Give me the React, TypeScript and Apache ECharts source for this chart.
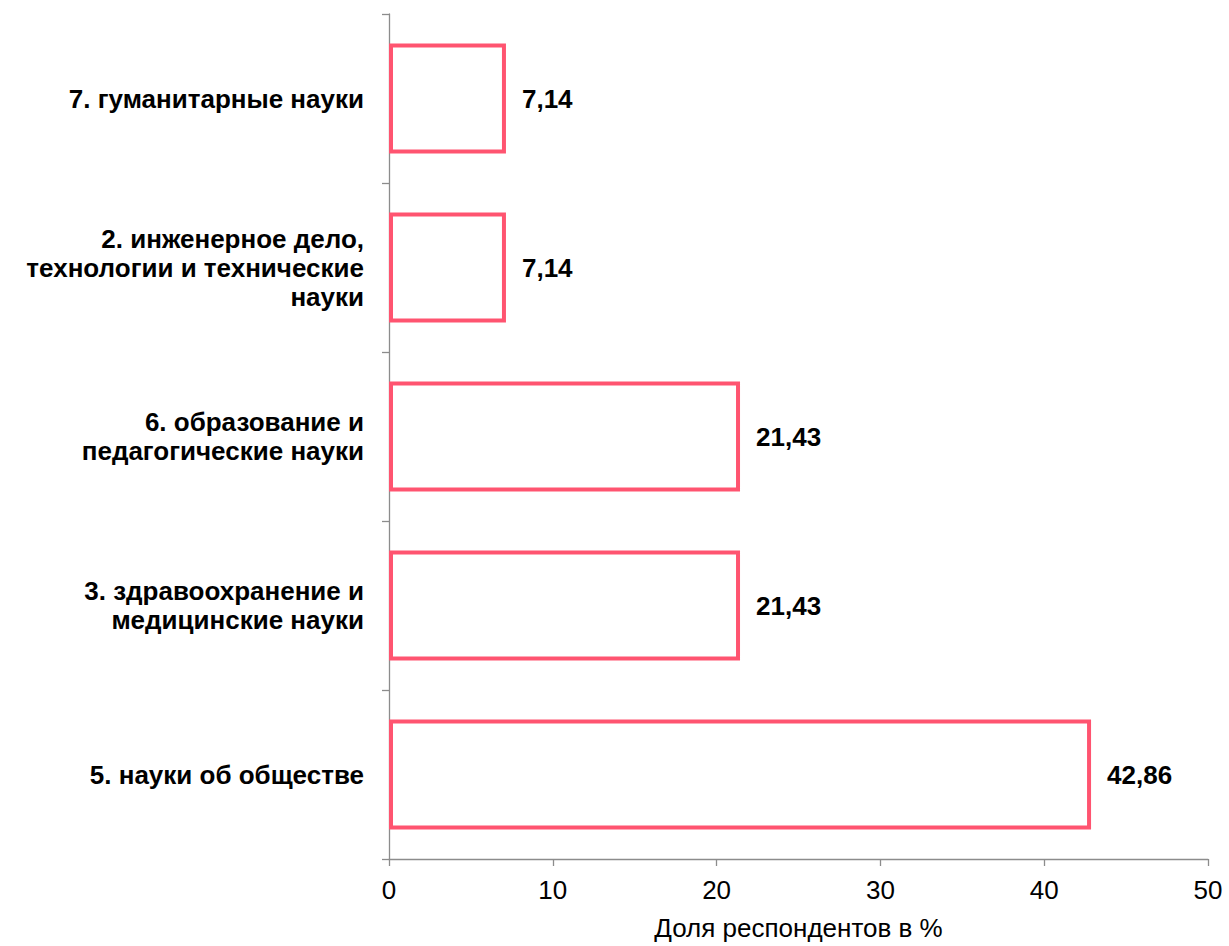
import React, { useEffect, useRef } from "react";
import * as echarts from "echarts";

const categories = [
  "5. науки об обществе",
  "3. здравоохранение и\nмедицинские науки",
  "6. образование и\nпедагогические науки",
  "2. инженерное дело,\nтехнологии и технические\nнауки",
  "7. гуманитарные науки",
];
const values = [42.86, 21.43, 21.43, 7.14, 7.14];
const xTicks = { min: 0, max: 50, interval: 10 };
const xName = "Доля респондентов в %";

export default function App() {
  const ref = useRef<HTMLDivElement>(null);
  useEffect(() => {
    const chart = echarts.init(ref.current!, null, { renderer: "svg" });
    const font = "Liberation Sans, Arial, sans-serif";
    chart.setOption({
      animation: false,
      textStyle: { fontFamily: font },
      grid: { left: 389, right: 21, top: 14, bottom: 63, containLabel: false },
      xAxis: {
        type: "value",
        min: xTicks.min,
        max: xTicks.max,
        interval: xTicks.interval,
        name: xName,
        nameLocation: "middle",
        nameGap: 56,
        nameTextStyle: { fontSize: 26, color: "#000", fontFamily: font },
        axisLine: { show: true, lineStyle: { color: "#8c8c8c", width: 1.3 } },
        axisTick: { show: true, length: 7, lineStyle: { color: "#8c8c8c", width: 1.3 } },
        axisLabel: { fontSize: 26, color: "#000", margin: 18, fontFamily: font },
        splitLine: { show: false },
      },
      yAxis: {
        type: "category",
        data: categories,
        axisLine: { show: true, lineStyle: { color: "#8c8c8c", width: 1.3 } },
        axisTick: { show: true, length: 7, lineStyle: { color: "#8c8c8c", width: 1.3 } },
        axisLabel: {
          fontSize: 26,
          fontWeight: "bold",
          color: "#000",
          margin: 25,
          lineHeight: 29,
          align: "right",
          fontFamily: font,
        },
      },
      series: [
        {
          type: "bar",
          data: values,
          barCategoryGap: "35%",
          itemStyle: {
            color: "#ffffff",
            borderColor: "#FF5470",
            borderWidth: 4,
            borderRadius: 0,
          },
          label: {
            show: true,
            position: "right",
            distance: 16,
            fontSize: 26,
            fontWeight: "bold",
            color: "#000",
            fontFamily: font,
            formatter: (p: any) => p.value.toFixed(2).replace(".", ","),
          },
        },
      ],
    });
    return () => chart.dispose();
  }, []);
  return <div ref={ref} style={{ width: 1229, height: 946, position: "absolute", left: 0, top: 0 }} />;
}
